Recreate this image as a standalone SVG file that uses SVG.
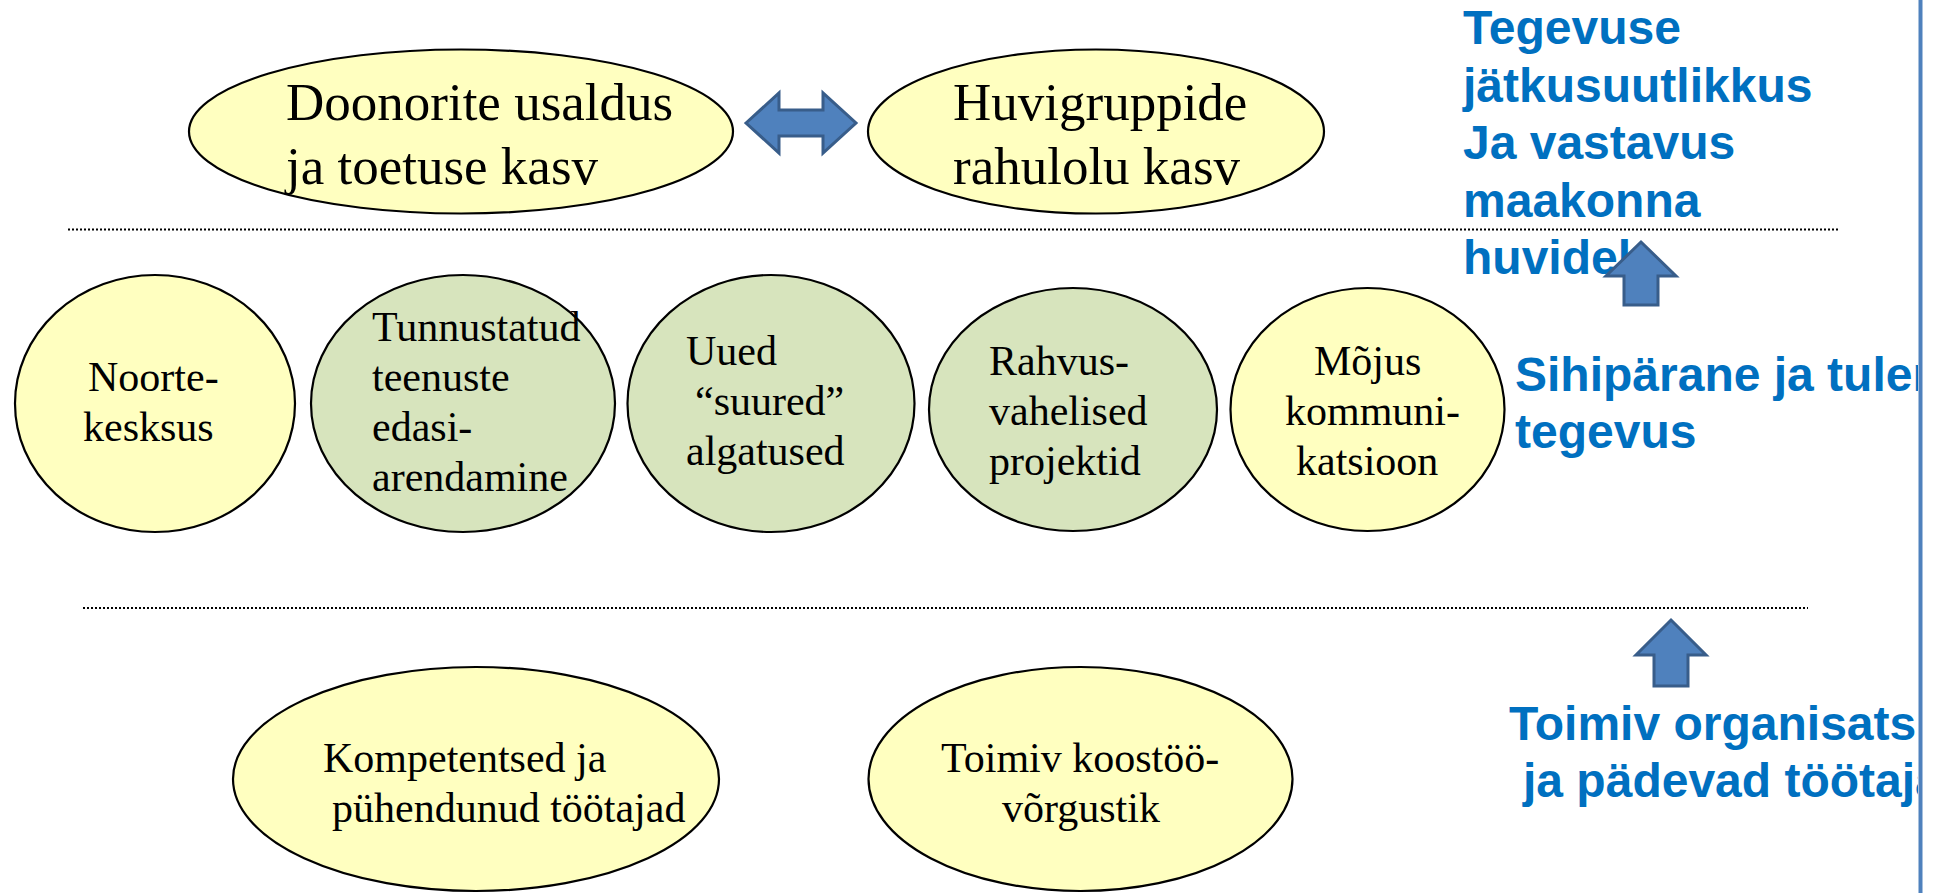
<svg xmlns="http://www.w3.org/2000/svg" width="1945" height="893" viewBox="0 0 1945 893">
<style>
.y{fill:#FFFFC0;stroke:#000;stroke-width:2.2}
.g{fill:#D7E4BD;stroke:#000;stroke-width:2.2}
.t{font-family:"Liberation Serif","Times New Roman",serif;fill:#000}
.tl{font-size:53px}
.tm{font-size:42px}
.b{font-family:"Liberation Sans",Arial,sans-serif;font-weight:bold;font-size:48px;fill:#0070C0}
.dot{stroke:#000;stroke-width:2;stroke-dasharray:2 2;fill:none}
.arr{fill:#4F81BD;stroke:#385D8A;stroke-width:3}
</style>
<defs>
<clipPath id="clipR"><rect x="0" y="0" width="1918" height="893"/></clipPath>
</defs>
<rect width="1945" height="893" fill="#fff"/>

<g id="separators">
<line class="dot" x1="68" y1="229.5" x2="1840" y2="229.5"/>
<line class="dot" x1="83" y1="608" x2="1808" y2="608"/>
</g>

<g id="labels-right" clip-path="url(#clipR)">
<text class="b" x="1463" y="44">Tegevuse</text>
<text class="b" x="1463" y="102">jätkusuutlikkus</text>
<text class="b" x="1463" y="159">Ja vastavus</text>
<text class="b" x="1463" y="217">maakonna</text>
<text class="b" x="1463" y="274">huvidel</text>
<text class="b" x="1515" y="391">Sihipärane ja tulem</text>
<text class="b" x="1515" y="448">tegevus</text>
<text class="b" x="1509" y="740">Toimiv organisatsi</text>
<text class="b" x="1523" y="797">ja pädevad töötaja</text>
</g>
<line x1="1920.5" y1="0" x2="1920.5" y2="893" stroke="#4F81BD" stroke-width="4"/>

<g id="node-doonorite">
<ellipse class="y" cx="461" cy="131.5" rx="272" ry="82"/>
<text class="t tl" x="286" y="120">Doonorite usaldus</text>
<text class="t tl" x="286" y="184">ja toetuse kasv</text>
</g>
<g id="node-huvigruppide">
<ellipse class="y" cx="1096" cy="131.5" rx="228" ry="82"/>
<text class="t tl" x="953" y="120">Huvigruppide</text>
<text class="t tl" x="953" y="184">rahulolu kasv</text>
</g>

<g id="node-noortekeskus">
<ellipse class="y" cx="155" cy="403.5" rx="140" ry="128.5"/>
<text class="t tm" x="88" y="391">Noorte-</text>
<text class="t tm" x="83" y="441">kesksus</text>
</g>
<g id="node-tunnustatud">
<ellipse class="g" cx="463" cy="403.5" rx="152" ry="128.5"/>
<text class="t tm" x="372" y="341">Tunnustatud</text>
<text class="t tm" x="372" y="391">teenuste</text>
<text class="t tm" x="372" y="441">edasi-</text>
<text class="t tm" x="372" y="491">arendamine</text>
</g>
<g id="node-uued">
<ellipse class="g" cx="771" cy="403.5" rx="143.5" ry="128.5"/>
<text class="t tm" x="686" y="365">Uued</text>
<text class="t tm" x="695" y="415">“suured”</text>
<text class="t tm" x="686" y="465">algatused</text>
</g>
<g id="node-rahvusvahelised">
<ellipse class="g" cx="1073" cy="409.5" rx="144" ry="121.5"/>
<text class="t tm" x="989" y="375">Rahvus-</text>
<text class="t tm" x="989" y="425">vahelised</text>
<text class="t tm" x="989" y="475">projektid</text>
</g>
<g id="node-mojus">
<ellipse class="y" cx="1367.5" cy="409.5" rx="137" ry="121.5"/>
<text class="t tm" x="1314" y="375">Mõjus</text>
<text class="t tm" x="1285" y="425">kommuni-</text>
<text class="t tm" x="1296" y="475">katsioon</text>
</g>

<g id="node-kompetentsed">
<ellipse class="y" cx="476" cy="779" rx="243" ry="112"/>
<text class="t tm" x="323" y="772">Kompetentsed ja</text>
<text class="t tm" x="332" y="822">pühendunud töötajad</text>
</g>
<g id="node-koostoo">
<ellipse class="y" cx="1080.5" cy="779" rx="212" ry="112"/>
<text class="t tm" x="941" y="772">Toimiv koostöö-</text>
<text class="t tm" x="1002" y="822">võrgustik</text>
</g>

<g id="connectors">
<polygon class="arr" points="746,123 779,93 779,110 823,110 823,93 856,123 823,153 823,136 779,136 779,153"/>
<polygon class="arr" points="1641,242 1676,276 1658,276 1658,305 1624,305 1624,276 1606,276"/>
<polygon class="arr" points="1671,620 1706,655 1688,655 1688,686 1654,686 1654,655 1636,655"/>
</g>
</svg>
